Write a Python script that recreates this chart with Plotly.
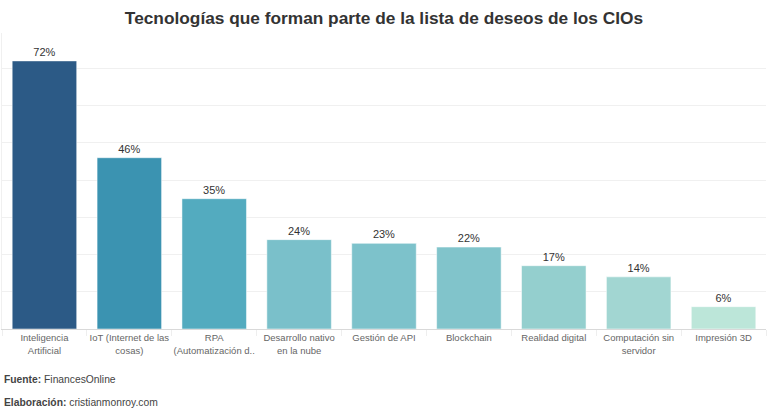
import plotly.graph_objects as go

# data
tecnologias = [
    "Inteligencia<br>Artificial",
    "IoT (Internet de las<br>cosas)",
    "RPA<br>(Automatización d..",
    "Desarrollo nativo<br>en la nube",
    "Gestión de API",
    "Blockchain",
    "Realidad digital",
    "Computación sin<br>servidor",
    "Impresión 3D",
]
porcentajes = [72, 46, 35, 24, 23, 22, 17, 14, 6]
etiquetas = [f"{p}%" for p in porcentajes]

# blue-teal scale, light for low values, dark for high
escala = [
    [0.0, "#bce6d9"],
    [0.12, "#a2d6d2"],
    [0.17, "#93cfce"],
    [0.25, "#7fc3cb"],
    [0.44, "#53abbf"],
    [0.61, "#3a92b1"],
    [1.0, "#2c5a86"],
]

fig = go.Figure()
fig.add_trace(go.Bar(
    x=tecnologias,
    y=porcentajes,
    text=etiquetas,
    textposition="outside",
    textfont=dict(size=11, color="#333333"),
    cliponaxis=False,
    marker=dict(
        color=porcentajes,
        colorscale=escala,
        cmin=min(porcentajes),
        cmax=max(porcentajes),
        line=dict(width=1, color="rgba(255,255,255,0.5)"),
    ),
    hoverinfo="x+y",
))

fig.update_layout(
    width=768,
    height=410,
    margin=dict(l=2, r=2, t=33, b=81),
    paper_bgcolor="white",
    plot_bgcolor="white",
    font=dict(family="Liberation Sans, Arial, sans-serif", size=10, color="#666666"),
    title=dict(
        text="<b>Tecnologías que forman parte de la lista de deseos de los CIOs</b>",
        x=0.5, xanchor="center", y=0.957, yanchor="middle",
        font=dict(size=17.3, color="#333333"),
    ),
    bargap=0.24,
    showlegend=False,
    annotations=[
        dict(text="<b>Fuente:</b> FinancesOnline", xref="paper", yref="paper",
             x=0, y=-0.172, xanchor="left", yanchor="middle", showarrow=False,
             font=dict(size=10.3, color="#444444")),
        dict(text="<b>Elaboración:</b> cristianmonroy.com", xref="paper", yref="paper",
             x=0, y=-0.248, xanchor="left", yanchor="middle", showarrow=False,
             font=dict(size=10.3, color="#444444")),
    ],
)

fig.update_xaxes(
    showgrid=False,
    showline=True, linecolor="#d9d9d9",
    ticks="outside", tickson="boundaries", ticklen=6, tickcolor="#eeeeee",
    tickfont=dict(size=9.5, color="#666666"),
    tickangle=0,
)
fig.update_yaxes(
    range=[0, 79.5],
    dtick=10,
    showgrid=True, gridcolor="#f0f0f0",
    showticklabels=False,
    zeroline=False,
    showline=True, linecolor="#f0f0f0",
)

# drop the default body margin so the fixed-size figure sits at the corner
fig.write_html("out.html", config={"displayModeBar": False},
               post_script="document.body.style.margin='0px';")
